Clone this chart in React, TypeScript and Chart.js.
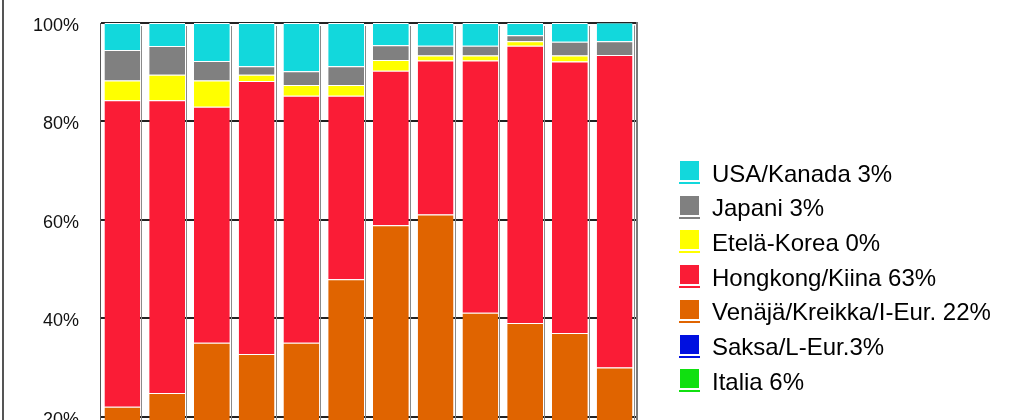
import React, { useEffect, useRef } from "react";
import { Chart, registerables } from "chart.js";

Chart.register(...registerables);

// ---- data (percent shares per bar, bottom-to-top stacking order) ----
const categories = ["1", "2", "3", "4", "5", "6", "7", "8", "9", "10", "11", "12"];
const italia = [7, 7, 6, 6, 6, 6, 5, 5, 6, 6, 6, 6];
const saksa = [4, 4, 3, 3, 3, 3, 3, 3, 3, 3, 3, 3];
const venaja = [11.0, 13.8, 26.0, 23.7, 26.0, 38.9, 50.9, 53.1, 32.1, 30.0, 28.0, 21.0];
const hongkong = [62.3, 59.5, 48.0, 55.5, 50.2, 37.3, 31.4, 31.3, 51.3, 56.4, 55.2, 63.5];
const korea = [4.0, 5.2, 5.3, 1.3, 2.2, 2.2, 2.2, 1.0, 1.0, 0.9, 1.2, 0.0];
const japani = [6.2, 5.8, 4.0, 1.7, 2.8, 3.8, 3.0, 2.0, 2.0, 1.2, 2.8, 2.8];
const usa = [5.5, 4.7, 7.7, 8.8, 9.8, 8.8, 4.5, 4.6, 4.6, 2.5, 3.8, 3.8];

const seriesLabels = [
  "Italia 6%",
  "Saksa/L-Eur.3%",
  "Venäjä/Kreikka/I-Eur. 22%",
  "Hongkong/Kiina 63%",
  "Etelä-Korea 0%",
  "Japani 3%",
  "USA/Kanada 3%",
];
const seriesData = [italia, saksa, venaja, hongkong, korea, japani, usa];
const seriesColors = ["#10e010", "#0010e0", "#e06400", "#fa1c36", "#ffff00", "#808080", "#12d8dc"];
const yTicks = [0, 20, 40, 60, 80, 100];

const W = 1023;
const H = 560;
const PLOT_LEFT = 100;
const PLOT_RIGHT = 637;
const FONT = "'Liberation Sans', Arial, sans-serif";

// legend placement (right side, top entry = last dataset)
const LEGEND_BOX_X = 680;
const LEGEND_TEXT_X = 712;
const LEGEND_FIRST_Y = 175;
const LEGEND_STEP = 34.7;

const barShadow = {
  id: "barShadow",
  beforeDatasetsDraw(chart: any) {
    const ctx = chart.ctx;
    const n = chart.data.datasets.length;
    const topMeta = chart.getDatasetMeta(n - 1);
    const area = chart.chartArea;
    ctx.save();
    ctx.strokeStyle = "#8a8a8a";
    ctx.lineWidth = 1;
    topMeta.data.forEach((el: any) => {
      const p = el.getProps(["x", "y", "width"], true);
      const x = Math.round(p.x + p.width / 2) + 1.5;
      ctx.beginPath();
      ctx.moveTo(x, p.y + 3);
      ctx.lineTo(x, area.bottom);
      ctx.stroke();
    });
    ctx.restore();
  },
};

const sideLegend = {
  id: "sideLegend",
  afterDraw(chart: any) {
    const ctx = chart.ctx;
    const ds = chart.data.datasets;
    ctx.save();
    ctx.font = `24px ${FONT}`;
    ctx.textBaseline = "middle";
    ctx.textAlign = "left";
    for (let k = 0; k < ds.length; k++) {
      const d = ds[ds.length - 1 - k];
      const cy = LEGEND_FIRST_Y + k * LEGEND_STEP;
      ctx.fillStyle = d.backgroundColor;
      ctx.fillRect(LEGEND_BOX_X, Math.round(cy - 14), 19, 19);
      ctx.fillRect(LEGEND_BOX_X - 1, Math.round(cy + 7), 21, 2);
      ctx.fillStyle = "#000";
      ctx.fillText(d.label, LEGEND_TEXT_X, cy);
    }
    ctx.restore();
  },
};

export default function App() {
  const ref = useRef<HTMLCanvasElement | null>(null);

  useEffect(() => {
    if (!ref.current) return;
    const chart = new Chart(ref.current, {
      type: "bar",
      data: {
        labels: categories,
        datasets: seriesData.map((d, i) => ({
          label: seriesLabels[i],
          data: d,
          backgroundColor: seriesColors[i],
          borderColor: "#ffffff",
          borderWidth: { top: 1, left: 0, right: 0, bottom: 0 },
          borderSkipped: false,
          categoryPercentage: 1,
          barPercentage: 0.8,
        })),
      },
      plugins: [barShadow, sideLegend],
      options: {
        responsive: false,
        animation: false,
        devicePixelRatio: 1,
        layout: { padding: { top: 23, bottom: 23, left: 0, right: W - PLOT_RIGHT } },
        plugins: {
          legend: { display: false },
          tooltip: { enabled: false },
        },
        scales: {
          x: {
            stacked: true,
            ticks: { display: false },
            grid: { display: false },
            border: { display: false },
            afterFit: (s: any) => {
              s.height = 22;
              s.paddingLeft = 0;
              s.paddingRight = 0;
            },
          },
          y: {
            stacked: true,
            min: 0,
            max: 100,
            afterBuildTicks: (s: any) => {
              s.ticks = yTicks.map((v) => ({ value: v }));
            },
            ticks: {
              callback: (v: any) => v + "%",
              color: "#111",
              font: { family: FONT, size: 18 },
              padding: 21,
              labelOffset: 3,
            },
            grid: { color: "#222", lineWidth: 2, drawTicks: false },
            border: { color: "#555", width: 1 },
            afterFit: (s: any) => {
              s.width = PLOT_LEFT;
              s.paddingTop = 0;
              s.paddingBottom = 0;
            },
          },
          y2: {
            position: "right",
            min: 0,
            max: 100,
            ticks: { display: false },
            grid: { display: false, drawTicks: false },
            border: { color: "#7a7a7a", width: 2 },
            afterFit: (s: any) => {
              s.width = 0;
              s.paddingTop = 0;
              s.paddingBottom = 0;
            },
          },
        },
      },
    });
    return () => chart.destroy();
  }, []);

  return (
    <div
      style={{
        position: "absolute",
        left: 0,
        top: 0,
        width: W,
        height: 420,
        overflow: "hidden",
        background: "#fff",
      }}
    >
      <canvas ref={ref} width={W} height={H} style={{ display: "block" }} />
      <div
        style={{
          position: "absolute",
          left: 2,
          top: 0,
          width: 2,
          height: 420,
          background: "#555",
        }}
      />
    </div>
  );
}
